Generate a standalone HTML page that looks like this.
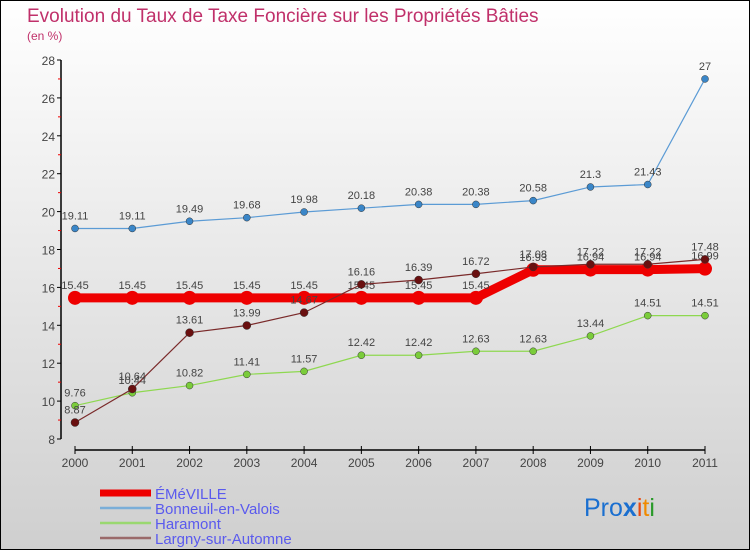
<!DOCTYPE html>
<html><head><meta charset="utf-8"><style>
html,body{margin:0;padding:0}
body{width:750px;height:550px;overflow:hidden;font-family:"Liberation Sans",sans-serif}
</style></head><body>
<svg id="c" width="750" height="550" xmlns="http://www.w3.org/2000/svg">
<defs><linearGradient id="bg" x1="0" y1="0" x2="0" y2="1"><stop offset="0" stop-color="#ffffff"/><stop offset="1" stop-color="#cfcfcf"/></linearGradient></defs>
<rect x="0.5" y="0.5" width="749" height="549" fill="url(#bg)" stroke="#000"/>
<text x="27" y="22" font-size="19" fill="#c0306a">Evolution du Taux de Taxe Foncière sur les Propriétés Bâties</text>
<text x="27" y="40" font-size="12" fill="#c0306a">(en %)</text>
<g id="axes"></g><g id="series"></g>
<g id="legend"></g>
<text x="584" y="516" font-size="25"><tspan fill="#1a6fd0">Pro</tspan><tspan fill="#1a6fd0" font-weight="bold">x</tspan><tspan fill="#e8480f">i</tspan><tspan fill="#f08a00">t</tspan><tspan fill="#2a9a2a">i</tspan></text>
</svg>
<script>
const years=[2000,2001,2002,2003,2004,2005,2006,2007,2008,2009,2010,2011];
const emeville=[15.45,15.45,15.45,15.45,15.45,15.45,15.45,15.45,16.93,16.94,16.94,16.99];
const bonneuil=[19.11,19.11,19.49,19.68,19.98,20.18,20.38,20.38,20.58,21.3,21.43,27];
const haramont=[9.76,10.44,10.82,11.41,11.57,12.42,12.42,12.63,12.63,13.44,14.51,14.51];
const largny=[8.87,10.64,13.61,13.99,14.67,16.16,16.39,16.72,17.08,17.22,17.22,17.48];
const yTicks=[8,10,12,14,16,18,20,22,24,26,28];
const names=["ÉMéVILLE","Bonneuil-en-Valois","Haramont","Largny-sur-Automne"];
const NS="http://www.w3.org/2000/svg";
const X=i=>75+i*(630/11);
const Y=v=>439-(v-8)*(379/20);
function mk(t,a,p){const e=document.createElementNS(NS,t);for(const k in a)e.setAttribute(k,a[k]);p.appendChild(e);return e;}
const ax=document.getElementById('axes');
let yl=mk('line',{x1:61,y1:Y(28),x2:61,y2:Y(8),stroke:'#000','stroke-width':1.5},ax);


let xl=mk('line',{x1:75,y1:450,x2:705,y2:450,stroke:'#000','stroke-width':1.5},ax);


for(let v=8;v<=28;v++){
  const major=v%2===0;
  mk('line',{x1:major?57:58,y1:Y(v),x2:61,y2:Y(v),stroke:major?'#000':'#e00','stroke-width':1},ax);
}
yTicks.forEach(v=>{
  const t=mk('text',{x:55,y:Y(v)+5,'font-size':12,'text-anchor':'end',fill:'#444'},ax);
  t.textContent=v;
  
  
});
years.forEach((y,i)=>{
  mk('line',{x1:X(i),y1:446,x2:X(i),y2:454,stroke:'#000'},ax);
  const t=mk('text',{x:X(i),y:467,'font-size':12,'text-anchor':'middle',fill:'#444'},ax);
  t.textContent=y;
  
  
});
const sg=document.getElementById('series');
const defs=[
 {d:bonneuil,c:'#5b9bd5',pt:'#3a86c8',w:1.2,r:3.5,n:'bonneuil'},
 {d:haramont,c:'#8ed850',pt:'#7acc3a',w:1.2,r:3.5,n:'haramont'},
 {d:largny,c:'#7a2a2a',pt:'#6a1010',w:1.2,r:4,n:'largny'},
 {d:emeville,c:'#ee0000',pt:'#ee0000',w:9,r:7,n:'emeville'}
];
const order=[0,1,3,2];
order.forEach(k=>{
  const s=defs[k];
  const g=mk('g',{},sg);
  
  
  const pl=mk('polyline',{points:s.d.map((v,i)=>X(i)+','+Y(v)).join(' '),fill:'none',stroke:s.c,'stroke-width':s.w},g);
  
  
  s.d.forEach((v,i)=>{
    const c=mk('circle',{cx:X(i),cy:Y(v),r:s.r,fill:s.pt,stroke:k===3?'none':'#333','stroke-width':0.5},g);
    
    
    const t=mk('text',{x:X(i),y:Y(v)-9,'font-size':11,'text-anchor':'middle',fill:'#444'},g);
    t.textContent=v;
    
    
  });
});
const lg=document.getElementById('legend');
const lc=['#ee0000','#7aaed8','#9ad870','#9a6a6a'];
const lw=[7,2.5,2.5,2.5];
names.forEach((n,i)=>{
  const y=493+i*15;
  mk('line',{x1:100,y1:y,x2:151,y2:y,stroke:lc[i],'stroke-width':lw[i]},lg);
  const t=mk('text',{x:155,y:y+6,'font-size':15,fill:'#5a5aee'},lg);
  t.textContent=n;
  
  
});
</script>
</body></html>
